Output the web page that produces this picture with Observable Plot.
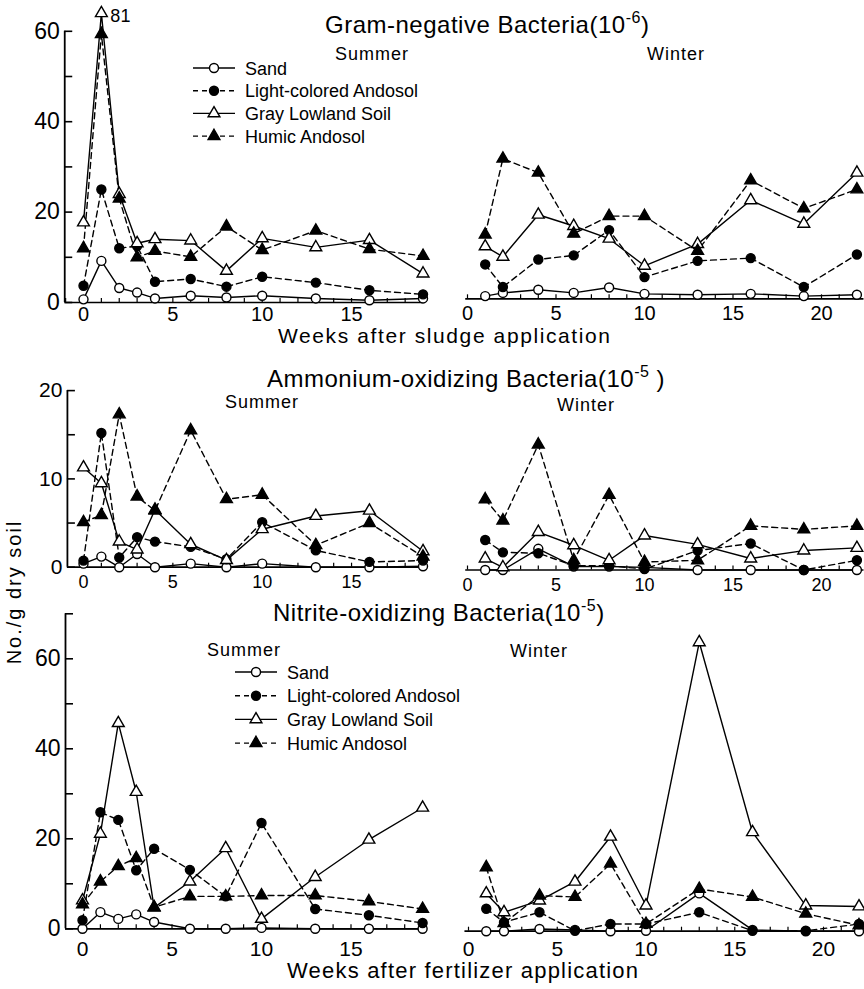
<!DOCTYPE html>
<html>
<head>
<meta charset="utf-8">
<script src="https://cdn.jsdelivr.net/npm/d3@7"></script>
<script src="https://cdn.jsdelivr.net/npm/@observablehq/plot@0.6"></script>
<style>
  body { margin: 0; background: #fff; }
  #fig { position: relative; width: 864px; height: 989px; background: #fff; overflow: hidden; }
  #fig > svg { position: absolute; }
</style>
</head>
<body>
<div id="fig"></div>
<script>
// Soil types, in the order used by every series array below
const soils = ["Sand", "Light-colored Andosol", "Gray Lowland Soil", "Humic Andosol"];

// Sampling weeks
const summerWeeks = [0, 1, 2, 3, 4, 6, 8, 10, 13, 16, 19];
const winterWeeks = [1, 2, 4, 6, 8, 10, 13, 16, 19, 22];

// Gram-negative bacteria (x10^6 per g dry soil) after sludge application
const gramNegSummer = [
  [0.7, 9.2, 3.2, 2.2, 0.9, 1.5, 1.1, 1.5, 0.9, 0.5, 0.9],
  [3.7, 25, 12, 12.5, 4.6, 5.2, 3.5, 5.7, 4.4, 2.7, 1.8],
  [17.7, 81, 24, 13.1, 14, 13.7, 7, 14.2, 12.2, 13.8, 6.4],
  [12, 59.4, 23, 10, 11.4, 10.1, 16.8, 11.6, 15.9, 11.8, 10.3]
];
const gramNegWinter = [
  [0.6, 1.3, 2.0, 1.3, 2.5, 1.1, 0.9, 1.1, 0.6, 0.9],
  [7.6, 2.6, 8.7, 9.6, 15.2, 4.8, 8.4, 9.0, 2.6, 9.8],
  [11.6, 9.3, 18.6, 16.1, 13.3, 7.3, 12.1, 21.8, 16.6, 27.9],
  [14.2, 31.0, 27.9, 14.4, 18.3, 18.3, 10.6, 26.2, 20.0, 24.2]
];

// Ammonium-oxidizing bacteria (x10^5)
const ammoniumSummer = [
  [0.4, 1.2, 0, 1.5, 0, 0.4, 0, 0.4, 0, 0, 0.1],
  [0.75, 15.2, 1.1, 3.4, 2.9, 2.3, 0.9, 5.1, 1.9, 0.6, 0.75],
  [11.3, 9.5, 2.9, 2.0, 6.5, 2.6, 0.8, 4.3, 5.8, 6.4, 1.8],
  [5.1, 5.9, 17.3, 8.0, 6.4, 15.5, 7.7, 8.2, 2.5, 5.0, 1.2]
];
const ammoniumWinter = [
  [0, 0, 2.4, 0.4, 0.4, 0.3, 0, 0, 0, 0],
  [3.4, 2.0, 1.9, 0.5, 0.5, 0.1, 2.2, 3.0, 0, 1.1],
  [1.3, 0.3, 4.3, 2.8, 1.1, 3.9, 2.9, 1.3, 2.2, 2.5],
  [8.0, 5.6, 14.2, 1.1, 8.5, 0.9, 1.1, 5.0, 4.6, 5.0]
];

// Nitrite-oxidizing bacteria (x10^5) after fertilizer application
const nitriteSummer = [
  [0, 3.7, 2.2, 3.2, 1.5, 0, 0, 0.2, 0, 0, 0],
  [1.9, 25.9, 24.2, 13, 17.8, 13.1, 7.2, 23.5, 4.4, 3, 1.3],
  [6.3, 21.1, 45.7, 30.4, 4.7, 10.5, 17.9, 2.2, 11.5, 19.8, 26.9],
  [5.4, 10.5, 13.9, 15.7, 4.8, 7.2, 7.2, 7.4, 7.4, 6.1, 4.4]
];
const nitriteWinter = [
  [0, 0, 0.5, 0.3, 0, 0.1, 8.4, 0.3, 0, 0],
  [5, 2, 4.2, 0.1, 1.6, 1.6, 4.2, 0.1, 0.1, 1.6],
  [8.4, 4.2, 6.8, 11, 21, 5.7, 64.2, 22, 5.7, 5.5],
  [14.2, 1.8, 7.9, 7.6, 15, 1.6, 9.4, 7.6, 3.9, 1.3]
];

// Axis tick values
const summerTickLabels = [0, 5, 10, 15];
const winterTickLabels = [0, 5, 10, 15, 20];
const gramTicks = [0, 10, 20, 30, 40, 50, 60];
const gramTickLabels = [0, 20, 40, 60];
const ammoniumTicks = [0, 5, 10, 15, 20];
const ammoniumTickLabels = [0, 10, 20];
const nitriteTicks = [0, 10, 20, 30, 40, 50, 60, 70];
const nitriteTickLabels = [0, 20, 40, 60];

// Marker / line styling for each soil
const soilStyle = [
  {symbol: "circle", fill: "white", r: 4.5, dash: null},
  {symbol: "circle", fill: "black", r: 4.5, dash: "6,4"},
  {symbol: "triangle", fill: "white", r: 4.4, dash: null},
  {symbol: "triangle", fill: "black", r: 4.4, dash: "6,4"}
];

const FONT = "'Liberation Sans', Arial, sans-serif";
const fig = document.getElementById("fig");

function panel(o) {
  const {left, top, width, height, weeks, series, x0, pxw, y0, pxu,
         xDomain, yMax, yAxis, yTicks, yLabels, yFont, xLabels, xFont, xDy, clampY, overflowLabel} = o;
  const xr = w => x0 - left + w * pxw;
  const yr = v => y0 - top - v * pxu;
  const marks = [];

  // x axis line with small weekly ticks
  marks.push(Plot.ruleY([0], {x1: xDomain[0], x2: xDomain[1], stroke: "black", strokeWidth: 1.7}));
  marks.push(Plot.ruleX(d3.range(Math.ceil(xDomain[0]), Math.floor(xDomain[1]) + 1),
    {x: d => d, y1: 0, y2: 4 / pxu, stroke: "black", strokeWidth: 1.2}));
  marks.push(Plot.text(xLabels, {x: d => d, y: 0, text: d => String(d), dy: xDy,
    fontSize: xFont, fill: "black"}));

  // left y axis (summer panels only)
  if (yAxis !== undefined) {
    marks.push(Plot.ruleX([yAxis], {y1: 0, y2: yTicks[yTicks.length - 1], stroke: "black", strokeWidth: 1.8}));
    marks.push(Plot.ruleY(yTicks, {y: d => d, x1: yAxis, x2: yAxis + 8 / pxw, stroke: "black", strokeWidth: 1.6}));
    marks.push(Plot.text(yLabels, {x: yAxis, y: d => d, text: d => String(d), textAnchor: "end",
      dx: -5, fontSize: yFont, fill: "black"}));
  }

  const rows = series.map(vals => weeks.map((w, i) => ({week: w, value: vals[i]})));

  // lines first, markers on top
  rows.forEach((data, i) => {
    marks.push(Plot.line(data, {x: "week", y: "value", stroke: "black", strokeWidth: 1.4,
      strokeDasharray: soilStyle[i].dash || undefined}));
  });
  rows.forEach((data, i) => {
    const s = soilStyle[i];
    marks.push(Plot.dot(data, {x: "week", y: "value", symbol: s.symbol, r: s.r,
      fill: s.fill, stroke: "black", strokeWidth: 1.4}));
  });

  // value label for a point beyond the axis range
  if (overflowLabel) {
    rows.forEach(data => {
      marks.push(Plot.text(data.filter(d => d.value > yMax), {x: "week", y: "value",
        text: d => String(d.value), dx: 9, dy: 3, textAnchor: "start", fontSize: 18, fill: "black"}));
    });
  }

  const svg = Plot.plot({
    width, height, margin: 0,
    x: {type: "linear", axis: null, domain: xDomain, range: [xr(xDomain[0]), xr(xDomain[1])]},
    y: {type: "linear", axis: null, domain: [0, yMax], range: [yr(0), yr(yMax)], clamp: !!clampY},
    style: {fontFamily: FONT, background: "transparent", overflow: "visible", color: "black"},
    marks
  });
  svg.style.left = left + "px";
  svg.style.top = top + "px";
  fig.appendChild(svg);
}

// Row 1: Gram-negative bacteria
panel({left: 0, top: 0, width: 440, height: 350, weeks: summerWeeks, series: gramNegSummer,
  x0: 83, pxw: 17.87, y0: 302, pxu: 4.52, xDomain: [-1, 19], yMax: 64, clampY: true,
  yAxis: -1.05, yTicks: gramTicks, yLabels: gramTickLabels, yFont: 23,
  xLabels: summerTickLabels, xFont: 20, xDy: 12, overflowLabel: true});
panel({left: 440, top: 0, width: 424, height: 350, weeks: winterWeeks, series: gramNegWinter,
  x0: 467, pxw: 17.7, y0: 298.3, pxu: 4.52, xDomain: [-0.1, 22.4], yMax: 64,
  xLabels: winterTickLabels, xFont: 20, xDy: 15});

// Row 2: Ammonium-oxidizing bacteria
panel({left: 0, top: 350, width: 440, height: 250, weeks: summerWeeks, series: ammoniumSummer,
  x0: 83, pxw: 17.87, y0: 566.7, pxu: 8.83, xDomain: [-0.9, 19], yMax: 20,
  yAxis: -0.9, yTicks: ammoniumTicks, yLabels: ammoniumTickLabels, yFont: 21,
  xLabels: summerTickLabels, xFont: 18, xDy: 15});
panel({left: 440, top: 350, width: 424, height: 250, weeks: winterWeeks, series: ammoniumWinter,
  x0: 467, pxw: 17.7, y0: 569.5, pxu: 8.83, xDomain: [-0.1, 22.4], yMax: 20,
  xLabels: winterTickLabels, xFont: 18, xDy: 15});

// Row 3: Nitrite-oxidizing bacteria
panel({left: 0, top: 600, width: 440, height: 389, weeks: summerWeeks, series: nitriteSummer,
  x0: 82, pxw: 17.9, y0: 928.3, pxu: 4.5, xDomain: [-0.95, 19], yMax: 70,
  yAxis: -0.95, yTicks: nitriteTicks, yLabels: nitriteTickLabels, yFont: 23,
  xLabels: summerTickLabels, xFont: 21, xDy: 20});
panel({left: 440, top: 600, width: 424, height: 389, weeks: winterWeeks, series: nitriteWinter,
  x0: 468, pxw: 17.75, y0: 930.7, pxu: 4.5, xDomain: [-0.2, 22.3], yMax: 70,
  xLabels: winterTickLabels, xFont: 21, xDy: 18});

// Titles, season labels, axis titles and legends
const ov = d3.create("svg")
  .attr("width", 864).attr("height", 989)
  .style("left", "0px").style("top", "0px")
  .attr("font-family", FONT).attr("fill", "black");

function title(x, y, main, sup, tail) {
  const t = ov.append("text").attr("x", x).attr("y", y).attr("font-size", 24).attr("letter-spacing", 0.5);
  t.append("tspan").text(main);
  t.append("tspan").attr("font-size", 16).attr("dy", -10).text(sup);
  t.append("tspan").attr("dy", 10).text(tail);
}
function label(x, y, txt, size, spacing) {
  ov.append("text").attr("x", x).attr("y", y).attr("font-size", size)
    .attr("letter-spacing", spacing || 0).text(txt);
}
function legend(x, y0, gap) {
  soils.forEach((name, i) => {
    const y = y0 + i * gap;
    const s = soilStyle[i];
    ov.append("line").attr("x1", x).attr("x2", x + 42).attr("y1", y).attr("y2", y)
      .attr("stroke", "black").attr("stroke-width", 1.4)
      .attr("stroke-dasharray", s.dash ? "5,4" : null);
    const size = Math.PI * s.r * s.r;
    ov.append("path")
      .attr("d", d3.symbol(s.symbol === "circle" ? d3.symbolCircle : d3.symbolTriangle, size)())
      .attr("transform", `translate(${x + 21},${y})`)
      .attr("fill", s.fill).attr("stroke", "black").attr("stroke-width", 1.4);
    ov.append("text").attr("x", x + 52).attr("y", y + 6.5).attr("font-size", 18).text(name);
  });
}

title(325, 33, "Gram-negative Bacteria(10", "-6", ")");
label(335, 60, "Summer", 18, 1);
label(647, 60, "Winter", 18, 1);
legend(193, 68, 22.7);
label(278, 343, "Weeks after sludge application", 21, 1.6);

title(267, 387, "Ammonium-oxidizing Bacteria(10", "-5", " )");
label(225, 408, "Summer", 18, 1);
label(557, 411, "Winter", 18, 1);

title(273, 621, "Nitrite-oxidizing  Bacteria(10", "-5", ")");
label(207, 656, "Summer", 18, 1);
label(510, 657, "Winter", 18, 1);
legend(235, 672, 23.7);
label(287, 978, "Weeks  after fertilizer application", 22, 1.2);

ov.append("text").attr("transform", "translate(21,592) rotate(-90)")
  .attr("text-anchor", "middle").attr("font-size", 20).attr("letter-spacing", 2)
  .text("No./g dry soil");

fig.appendChild(ov.node());
</script>
</body>
</html>
